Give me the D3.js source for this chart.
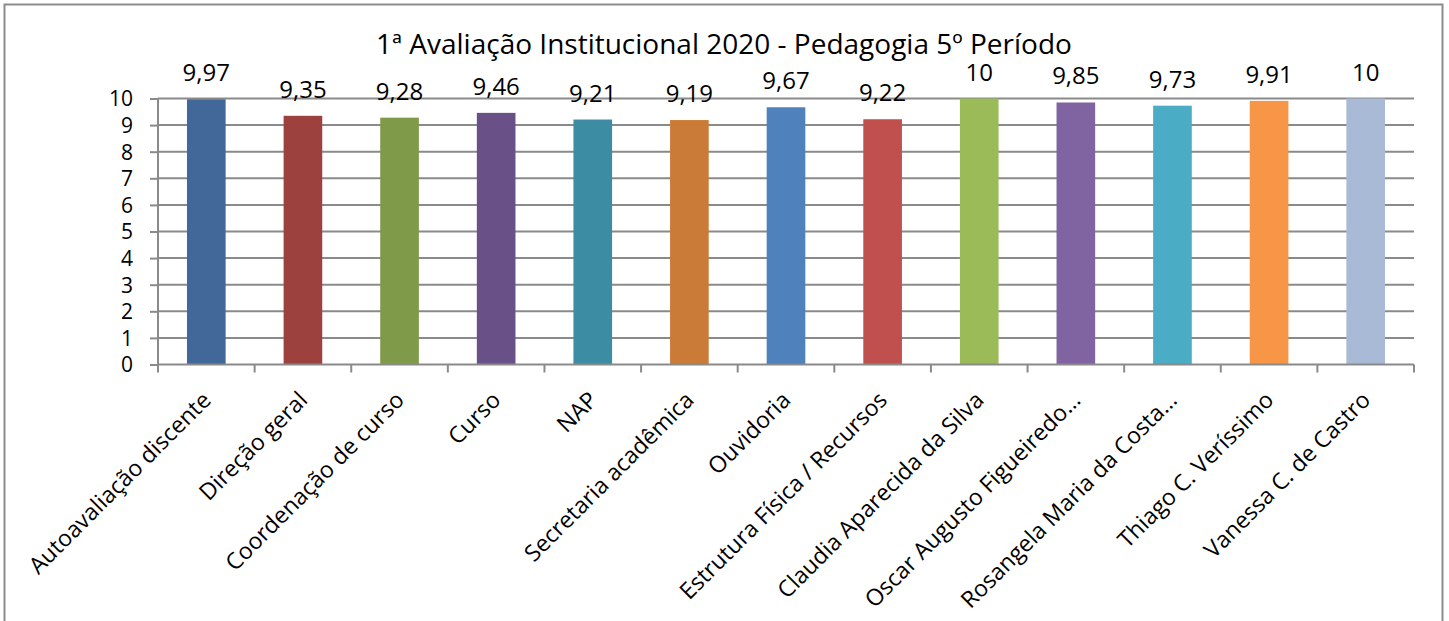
<!DOCTYPE html>
<html><head><meta charset="utf-8">
<script src="https://cdn.jsdelivr.net/npm/d3@7"></script>
<style>body{margin:0;background:#fff}text{font-family:"Open Sans",sans-serif;fill:#000}</style>
</head><body><svg id="c" width="1449" height="621"></svg>
<script>
const title = "1ª Avaliação Institucional 2020 - Pedagogia 5º Período";
const categories = ["Autoavaliação discente","Direção geral","Coordenação de curso","Curso","NAP","Secretaria acadêmica","Ouvidoria","Estrutura Física / Recursos","Claudia Aparecida da Silva","Oscar Augusto Figueiredo…","Rosangela Maria da Costa…","Thiago C. Veríssimo","Vanessa C. de Castro"];
const values = [9.97,9.35,9.28,9.46,9.21,9.19,9.67,9.22,10,9.85,9.73,9.91,10];
const valueLabels = ["9,97","9,35","9,28","9,46","9,21","9,19","9,67","9,22","10","9,85","9,73","9,91","10"];
const colors = ["#416898","#9D413E","#7F9A48","#695086","#3C8DA3","#CB7B38","#4F81BD","#C0504D","#9BBB59","#8064A2","#4BACC6","#F79646","#A9BAD7"];
const yTicks = [0,1,2,3,4,5,6,7,8,9,10];

const svg = d3.select("#c");
const L=158, R=1414, T=98.5, B=364.5;
svg.append("rect").attr("x",4.5).attr("y",4.5).attr("width",1438).attr("height",640).attr("fill","none").attr("stroke","#8c8c8c").attr("stroke-width",2);

const x = d3.scaleBand().domain(categories).range([L,R]).paddingInner(0.6).paddingOuter(0.3);
const xb = d3.scaleBand().domain(categories).range([L,R]);
const y = d3.scaleLinear().domain([0,10]).range([B,T]);

// gridlines
svg.append("g").selectAll("line").data(yTicks.filter(d=>d>0)).join("line")
 .attr("x1",L).attr("x2",R).attr("y1",d=>y(d)).attr("y2",d=>y(d)).attr("stroke","#8a8a8a").attr("stroke-width",2);

// y axis
const ya = svg.append("g").attr("transform",`translate(${L},0)`).call(d3.axisLeft(y).tickValues(yTicks).tickSize(8).tickPadding(17).tickFormat(d3.format("d")));
ya.select(".domain").attr("stroke","#8a8a8a").attr("stroke-width",2).attr("d",`M0,${T}V${B}`);
ya.selectAll(".tick line").attr("stroke","#8a8a8a").attr("stroke-width",2);
ya.selectAll(".tick text").attr("font-size",21).attr("font-family","Open Sans").attr("fill","#000").attr("dy","0.35em");

// bars
svg.append("g").selectAll("rect").data(values).join("rect")
 .attr("x",(d,i)=>x(categories[i])).attr("width",x.bandwidth())
 .attr("y",d=>y(d)).attr("height",d=>B-y(d)).attr("fill",(d,i)=>colors[i]);

// x axis
const xa = svg.append("g").attr("transform",`translate(0,${B})`);
xa.append("line").attr("x1",L).attr("x2",R).attr("stroke","#8a8a8a").attr("stroke-width",2);
const bounds = categories.map(c=>xb(c)).concat([R]);
xa.selectAll("line.t").data(bounds).join("line").attr("class","t")
 .attr("x1",d=>d).attr("x2",d=>d).attr("y1",0).attr("y2",8).attr("stroke","#8a8a8a").attr("stroke-width",2);
xa.selectAll("text").data(categories).join("text")
 .attr("transform",c=>`translate(${xb(c)+xb.bandwidth()/2+6},${37}) rotate(-45)`)
 .attr("text-anchor","end").attr("font-size",23).text(c=>c);

// value labels
svg.append("g").selectAll("text").data(values).join("text")
 .attr("x",(d,i)=>x(categories[i])+x.bandwidth()/2).attr("y",d=>y(d)-18)
 .attr("text-anchor","middle").attr("font-size",24).text((d,i)=>valueLabels[i]);

svg.append("text").attr("x",724).attr("y",54).attr("text-anchor","middle").attr("font-size",28).text(title);
</script></body></html>
